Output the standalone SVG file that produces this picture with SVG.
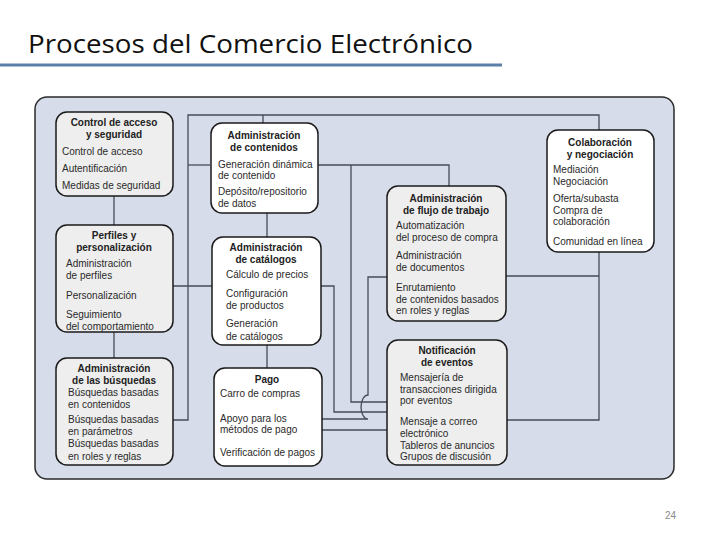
<svg xmlns="http://www.w3.org/2000/svg" width="720" height="540" viewBox="0 0 720 540">
<style>
.box{stroke:#1a1a1a;stroke-width:1.5}
.w{fill:#ffffff}
.g{fill:#eeeeee}
.h{font-family:"Liberation Sans",Arial,sans-serif;font-size:10px;font-weight:bold;fill:#222;text-anchor:middle}
.i{font-family:"Liberation Sans",Arial,sans-serif;font-size:10px;fill:#2a2a2a}
.c{fill:none;stroke:#454b57;stroke-width:1.3}
</style>
<rect width="720" height="540" fill="#ffffff"/>
<text x="28" y="53" font-family="'Open Sans','Liberation Sans',sans-serif" font-size="25" fill="#111" textLength="445" lengthAdjust="spacingAndGlyphs">Procesos del Comercio Electrónico</text>
<line x1="0" y1="65" x2="502" y2="65" stroke="#5b80a8" stroke-width="3"/>
<rect x="35" y="97" width="639" height="382" rx="12" fill="#d6dce9" stroke="#2a2a2a" stroke-width="1.5"/>
<g id="connectors">
<path class="c" d="M114,196 V225"/>
<path class="c" d="M114,332 V358"/>
<path class="c" d="M173,420 H188 V115 H599 V130"/>
<path class="c" d="M263,115 V123"/>
<path class="c" d="M188,165 H210"/>
<path class="c" d="M318,165 H449 V186"/>
<path class="c" d="M267,213 V237"/>
<path class="c" d="M173,286 H212"/>
<path class="c" d="M267,345 V368"/>
<path class="c" d="M351,165 V402 H387"/>
<path class="c" d="M321,286 H334 V412 H387"/>
<path class="c" d="M387,277 H368 V395 A7,12 0 0 0 368,419 H322"/>
<path class="c" d="M322,430 H387"/>
<path class="c" d="M599,252 V420 H507"/>
<path class="c" d="M506,276 H599"/>
</g>
<g id="control-acceso">
<rect class="box g" x="56" y="112" width="117" height="84" rx="11"/>
<text class="h" x="114" y="126">Control de acceso</text>
<text class="h" x="114" y="138">y seguridad</text>
<text class="i" x="62" y="155">Control de acceso</text>
<text class="i" x="62" y="172">Autentificación</text>
<text class="i" x="62" y="189">Medidas de seguridad</text>
</g>
<g id="perfiles">
<rect class="box g" x="56" y="225" width="117" height="107" rx="11"/>
<text class="h" x="114" y="239">Perfiles y</text>
<text class="h" x="114" y="251">personalización</text>
<text class="i" x="66" y="267">Administración</text>
<text class="i" x="66" y="279">de perfiles</text>
<text class="i" x="66" y="299">Personalización</text>
<text class="i" x="66" y="318">Seguimiento</text>
<text class="i" x="66" y="330">del comportamiento</text>
</g>
<g id="busquedas">
<rect class="box g" x="56" y="358" width="117" height="107" rx="11"/>
<text class="h" x="114" y="372">Administración</text>
<text class="h" x="114" y="384">de las búsquedas</text>
<text class="i" x="68" y="396">Búsquedas basadas</text>
<text class="i" x="68" y="408">en contenidos</text>
<text class="i" x="68" y="423">Búsquedas basadas</text>
<text class="i" x="68" y="435">en parámetros</text>
<text class="i" x="68" y="447">Búsquedas basadas</text>
<text class="i" x="68" y="460">en roles y reglas</text>
</g>
<g id="contenidos">
<rect class="box w" x="211" y="123" width="107" height="90" rx="11"/>
<text class="h" x="264" y="139">Administración</text>
<text class="h" x="264" y="151">de contenidos</text>
<text class="i" x="218" y="168">Generación dinámica</text>
<text class="i" x="218" y="179">de contenido</text>
<text class="i" x="218" y="195">Depósito/repositorio</text>
<text class="i" x="218" y="207">de datos</text>
</g>
<g id="catalogos">
<rect class="box w" x="212" y="237" width="109" height="108" rx="11"/>
<text class="h" x="266" y="251">Administración</text>
<text class="h" x="266" y="263">de catálogos</text>
<text class="i" x="226" y="278">Cálculo de precios</text>
<text class="i" x="226" y="297">Configuración</text>
<text class="i" x="226" y="309">de productos</text>
<text class="i" x="226" y="327">Generación</text>
<text class="i" x="226" y="340">de catálogos</text>
</g>
<g id="pago">
<rect class="box w" x="214" y="368" width="108" height="98" rx="11"/>
<text class="h" x="267" y="383">Pago</text>
<text class="i" x="220" y="397">Carro de compras</text>
<text class="i" x="220" y="422">Apoyo para los</text>
<text class="i" x="220" y="433">métodos de pago</text>
<text class="i" x="220" y="456">Verificación de pagos</text>
</g>
<g id="flujo-trabajo">
<rect class="box g" x="387" y="186" width="119" height="135" rx="11"/>
<text class="h" x="446" y="202">Administración</text>
<text class="h" x="446" y="214">de flujo de trabajo</text>
<text class="i" x="396" y="229">Automatización</text>
<text class="i" x="396" y="241">del proceso de compra</text>
<text class="i" x="396" y="259">Administración</text>
<text class="i" x="396" y="271">de documentos</text>
<text class="i" x="396" y="291">Enrutamiento</text>
<text class="i" x="396" y="303">de contenidos basados</text>
<text class="i" x="396" y="314">en roles y reglas</text>
</g>
<g id="notificacion">
<rect class="box g" x="387" y="340" width="120" height="125" rx="11"/>
<text class="h" x="447" y="354">Notificación</text>
<text class="h" x="447" y="366">de eventos</text>
<text class="i" x="400" y="381">Mensajería de</text>
<text class="i" x="400" y="393">transacciones dirigida</text>
<text class="i" x="400" y="404">por eventos</text>
<text class="i" x="400" y="425">Mensaje a correo</text>
<text class="i" x="400" y="437">electrónico</text>
<text class="i" x="400" y="449">Tableros de anuncios</text>
<text class="i" x="400" y="460">Grupos de discusión</text>
</g>
<g id="colaboracion">
<rect class="box w" x="547" y="130" width="107" height="122" rx="11"/>
<text class="h" x="600" y="146">Colaboración</text>
<text class="h" x="600" y="158">y negociación</text>
<text class="i" x="553" y="173">Mediación</text>
<text class="i" x="553" y="185">Negociación</text>
<text class="i" x="553" y="202">Oferta/subasta</text>
<text class="i" x="553" y="214">Compra de</text>
<text class="i" x="553" y="225">colaboración</text>
<text class="i" x="553" y="245">Comunidad en línea</text>
</g>
<text x="676" y="519" font-family="'Liberation Sans',Arial,sans-serif" font-size="10" fill="#888" text-anchor="end">24</text>
</svg>
